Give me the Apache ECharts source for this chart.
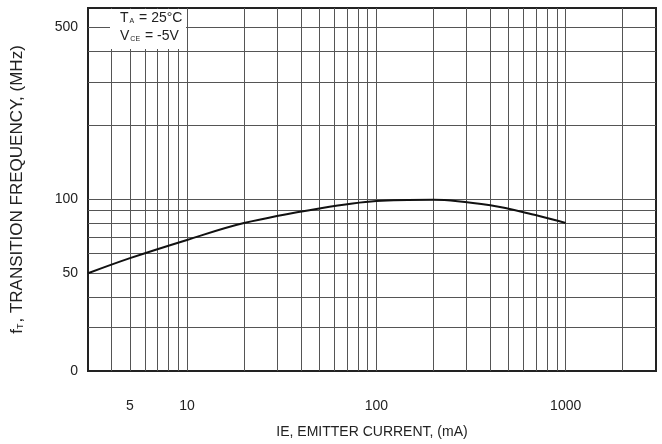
<!DOCTYPE html>
<html>
<head>
<meta charset="utf-8">
<script src="https://cdn.jsdelivr.net/npm/echarts@6/dist/echarts.min.js"></script>
<style>
  html, body { margin: 0; padding: 0; background: #fff; }
  #chart { width: 662px; height: 444px; }
</style>
</head>
<body>
<div id="chart"></div>
<script>
// emitter current (mA) and transition frequency (MHz)
const current = [3, 5, 10, 20, 50, 100, 200, 400, 700, 1000];
const freq = [50, 57.6, 68.3, 80, 91.7, 98.4, 99.6, 94.5, 86, 80];

const xTickLabels = [5, 10, 100, 1000];
const xGrid = [4, 5, 6, 7, 8, 9, 10, 20, 30, 40, 50, 60, 70, 80, 90, 100,
  200, 300, 400, 500, 600, 700, 800, 900, 1000, 2000];
const yTickLabels = [20, 50, 100, 500];
const yGrid = [30, 40, 50, 60, 70, 80, 90, 100, 200, 300, 400, 500];

const chart = echarts.init(document.getElementById('chart'));
const font = 'Liberation Sans, Arial, sans-serif';

chart.setOption({
  animation: false,
  grid: {
    left: 88, right: 6, top: 8, bottom: 73,
    show: true, borderColor: '#222', borderWidth: 2, backgroundColor: '#fff'
  },
  xAxis: {
    type: 'log', min: 3, max: 3000, logBase: 10,
    name: 'IE, EMITTER CURRENT, (mA)',
    nameLocation: 'middle', nameGap: 54,
    nameTextStyle: { fontFamily: font, fontSize: 14, color: '#222' },
    axisLine: { show: false },
    axisTick: { show: false, customValues: xGrid },
    axisLabel: {
      customValues: xTickLabels, margin: 28, fontFamily: font, fontSize: 14, color: '#222',
      formatter: v => String(v)
    },
    splitLine: { show: true, lineStyle: { color: '#555', width: 1 } }
  },
  yAxis: {
    type: 'log', min: 20, max: 600, logBase: 10,
    name: '{n|f}{s|T}{n|, TRANSITION FREQUENCY, (MHz)}',
    nameLocation: 'middle', nameGap: 62,
    nameTextStyle: {
      rich: {
        n: { fontFamily: font, fontSize: 17, color: '#222' },
        s: { fontFamily: font, fontSize: 9, color: '#222', padding: [7, 1, 0, 0] }
      }
    },
    axisLine: { show: false },
    axisTick: { show: false, customValues: yGrid },
    axisLabel: {
      customValues: yTickLabels, margin: 10, fontFamily: font, fontSize: 14, color: '#222',
      formatter: v => (v === 20 ? '0' : String(v))
    },
    splitLine: { show: true, lineStyle: { color: '#555', width: 1 } }
  },
  series: [{
    type: 'line',
    data: current.map((c, i) => [c, freq[i]]),
    smooth: 0.35,
    symbol: 'none',
    lineStyle: { color: '#111', width: 2 }
  }],
  graphic: [{
    type: 'rect',
    shape: { x: 110, y: 9, width: 76, height: 40 },
    style: { fill: '#fff' },
    z: 99
  }, {
    type: 'text',
    left: 120, top: 11, z: 100,
    style: {
      text: '{n|T}{s|A}{n| = 25°C}\n{n|V}{s|CE}{n| = -5V}',
      rich: {
        n: { fontFamily: font, fontSize: 14, fill: '#222', lineHeight: 18 },
        s: { fontFamily: font, fontSize: 7, fill: '#222', lineHeight: 18, padding: [6, 1, 0, 1] }
      }
    }
  }]
});
</script>
</body>
</html>
